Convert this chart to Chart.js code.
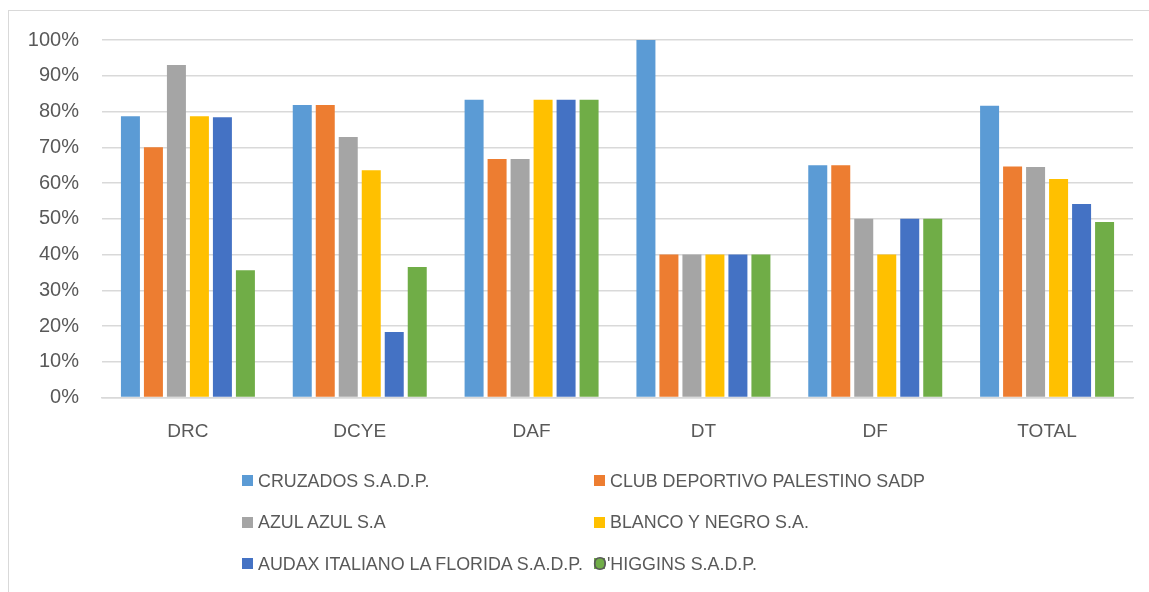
<!DOCTYPE html>
<html>
<head>
<meta charset="utf-8">
<script src="https://cdn.jsdelivr.net/npm/chart.js@4"></script>
<style>
  html, body { margin: 0; padding: 0; background: #fff; }
  body { width: 1149px; height: 592px; position: relative; overflow: hidden; font-family: "Liberation Sans", Arial, sans-serif; }
  #frame { position: absolute; left: 8px; top: 10px; width: 1160px; height: 600px; border: 1px solid #d9d9d9; box-sizing: border-box; }
  #chart { position: absolute; left: 0; top: 0; }
  .legend-item { position: absolute; height: 11px; }
  .legend-box { position: absolute; left: 0; top: 0; width: 11px; height: 11px; }
  .legend-text { position: absolute; top: -6.5px; left: 16px; white-space: nowrap; font-size: 19px; line-height: 24px; color: #595959; transform: scaleX(0.94); transform-origin: left center; }
</style>
</head>
<body>
<div id="frame"></div>
<canvas id="chart" width="1149" height="592"></canvas>
<div id="legend"></div>
<script>
const categories = ["DRC", "DCYE", "DAF", "DT", "DF", "TOTAL"];
const seriesNames = [
  "CRUZADOS S.A.D.P.",
  "CLUB DEPORTIVO PALESTINO SADP",
  "AZUL AZUL S.A",
  "BLANCO Y NEGRO S.A.",
  "AUDAX ITALIANO LA FLORIDA S.A.D.P.",
  "O'HIGGINS S.A.D.P.",
];
const cruzados = [78.7, 81.8, 83.3, 100, 65.0, 81.6];
const palestino = [70.0, 81.8, 66.7, 40, 65.0, 64.6];
const azulAzul = [93.0, 72.9, 66.7, 40, 50, 64.5];
const blancoNegro = [78.7, 63.6, 83.3, 40, 40, 61.1];
const audax = [78.4, 18.3, 83.3, 40, 50, 54.1];
const ohiggins = [35.6, 36.5, 83.3, 40, 50, 49.1];
const yTicks = [0, 10, 20, 30, 40, 50, 60, 70, 80, 90, 100];
const colors = ["#5B9BD5", "#ED7D31", "#A5A5A5", "#FFC000", "#4472C4", "#70AD47"];

const seriesValues = [cruzados, palestino, azulAzul, blancoNegro, audax, ohiggins];
const textColor = "#595959";
const gridColor = "#d9d9d9";

new Chart(document.getElementById("chart").getContext("2d"), {
  type: "bar",
  data: {
    labels: categories,
    datasets: seriesNames.map((name, i) => ({
      label: name,
      data: seriesValues[i],
      backgroundColor: colors[i],
      borderWidth: 0,
      categoryPercentage: 0.803,
      barPercentage: 0.826,
    })),
  },
  options: {
    responsive: false,
    animation: false,
    layout: {
      padding: { top: 40, right: 16, bottom: 132, left: 0 },
    },
    scales: {
      x: {
        grid: { display: false },
        border: { display: true, color: gridColor, width: 1.5 },
        ticks: {
          color: textColor,
          font: { family: "Liberation Sans", size: 19 },
          padding: 15,
        },
        afterFit: (scale) => { scale.height = 62.5; },
      },
      y: {
        min: 0,
        max: 100,
        afterBuildTicks: (scale) => { scale.ticks = yTicks.map((v) => ({ value: v })); },
        grid: { color: gridColor, lineWidth: 1.5, drawTicks: false },
        border: { display: false },
        ticks: {
          color: textColor,
          font: { family: "Liberation Sans", size: 20 },
          padding: 23,
          callback: (v) => v + "%",
        },
        afterFit: (scale) => { scale.width = 102; },
      },
    },
    plugins: {
      legend: { display: false },
      tooltip: { enabled: false },
    },
  },
});

// legend: two columns, three rows like the original
const legendEl = document.getElementById("legend");
const colX = [242, 594];
const rowY = [475, 516.5, 558];
legendEl.innerHTML = seriesNames.map((name, i) => {
  const col = i % 2;
  const row = Math.floor(i / 2);
  const textLeft = i === 5 ? -1 : 16;
  return `<div class="legend-item" style="left:${colX[col]}px;top:${rowY[row]}px">
    <div class="legend-box" style="background:${colors[i]}"></div>
    <div class="legend-text" style="left:${textLeft}px">${name}</div>
  </div>`;
}).join("");
</script>
</body>
</html>
